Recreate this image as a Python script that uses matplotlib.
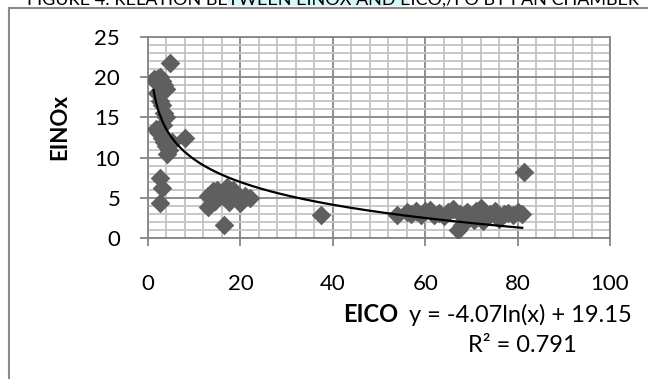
import numpy as np
import matplotlib.pyplot as plt
from matplotlib.lines import Line2D
from matplotlib.patches import Rectangle
from matplotlib.ticker import MultipleLocator

plt.rcParams['font.family'] = ['Lato', 'DejaVu Sans']

# EICO (x) vs EINOx (y)
eico = [4.8, 1.5, 2.0, 2.5, 3.0, 3.5, 4.0, 2.0, 2.5, 3.0, 3.5, 4.0, 1.8,
        2.3, 3.0, 3.5, 4.0, 4.5, 4.2, 5.2, 8.0, 2.5, 3.0, 2.5, 1.2, 3.2,
        13.0, 14.0, 15.0, 16.0, 17.0, 18.0, 19.0, 20.0, 21.0, 22.0, 17.5,
        14.5, 13.0, 16.5, 20.0, 18.5, 15.5,
        37.4,
        54.0, 56.0, 57.0, 58.0, 59.0, 60.0, 61.0, 62.0, 63.0, 64.0, 65.0,
        66.0, 67.0, 68.0, 67.5, 69.0, 70.0, 71.0, 72.0, 73.0, 74.0, 75.0,
        76.0, 77.0, 78.0, 79.0, 80.0, 81.0, 70.5, 72.5, 81.4]
einox = [21.8, 19.5, 19.8, 20.0, 19.5, 19.0, 18.5, 18.0, 17.0, 16.5, 15.5,
         15.0, 13.5, 13.0, 12.5, 12.0, 11.5, 11.0, 10.5, 12.0, 12.5, 7.5,
         6.2, 4.3, 19.8, 14.0,
         5.2, 5.8, 6.0, 5.5, 6.3, 5.8, 5.0, 4.8, 5.2, 5.0, 4.5, 4.6, 3.8,
         1.6, 4.3, 6.0, 5.4,
         2.9,
         2.9, 3.2, 3.0, 3.4, 2.8, 3.3, 3.5, 2.9, 3.1, 2.7, 3.2, 3.6, 1.0,
         1.6, 3.0, 3.2, 2.6, 3.4, 3.7, 2.8, 3.0, 3.3, 2.4, 3.0, 3.1, 2.8,
         3.2, 3.0, 2.2, 2.1, 8.2]

# logarithmic trendline shown on the chart
fit_a = -4.07
fit_b = 19.15
r_squared = 0.791

fig = plt.figure(figsize=(6.48, 3.79), dpi=100)
W, H = 648, 379
fs = 16

# outer chart border and the clipped caption above it
fig.add_artist(Line2D([9 / W, 9 / W], [0, 1 - 8 / H], color='#8a8a8a', lw=1.5))
fig.add_artist(Line2D([9 / W, 1], [1 - 8 / H, 1 - 8 / H], color='#8a8a8a', lw=1.5))
fig.add_artist(Rectangle((228 / W, 1 - 6 / H), 180 / W, 6 / H,
                         transform=fig.transFigure, color='#d6f7fb', lw=0))
fig.text(27 / W, 1 - 5 / H, 'FIGURE 4: RELATION BETWEEN EINOX AND EICO,/FO BY FAN CHAMBER',
         fontsize=13, va='baseline', ha='left', color='black')

ax = fig.add_axes([148 / W, 1 - 238 / H, 462 / W, 201 / H])

grey = '#868686'
ax.scatter(eico, einox, marker='D', s=100, color='#5f5f5f', lw=0, zorder=3)

xs = np.linspace(min(eico), max(eico) - 0.4, 300)
ax.plot(xs, fit_a * np.log(xs) + fit_b, color='black', lw=1.6, zorder=4)

ax.set_xlim(0, 100)
ax.set_ylim(0, 25)
ax.xaxis.set_major_locator(MultipleLocator(20))
ax.xaxis.set_minor_locator(MultipleLocator(4))
ax.yaxis.set_major_locator(MultipleLocator(5))
ax.yaxis.set_minor_locator(MultipleLocator(1))
ax.set_axisbelow(True)
ax.grid(which='minor', color='#c4c4c4', lw=1.3)
ax.grid(which='major', color=grey, lw=1.3)

for sp in ax.spines.values():
    sp.set_color(grey)
    sp.set_linewidth(1.3)

ax.tick_params(which='major', length=6, width=1.3, color=grey,
               labelsize=fs, direction='out')
ax.tick_params(axis='x', pad=20)
ax.tick_params(axis='y', pad=14)
ax.tick_params(which='minor', length=0)

fig.text(60 / W, 1 - 127 / H, 'EINOx', rotation=90, fontsize=fs,
         fontweight='bold', ha='center', va='center')
fig.text(398 / W, 1 - 315 / H, 'EICO', fontsize=17, fontweight='bold',
         ha='right', va='center')
fig.text(632 / W, 1 - 315 / H, f'y = {fit_a:.2f}ln(x) + {fit_b:.2f}',
         fontsize=17, ha='right', va='center')
fig.text(522 / W, 1 - 345 / H, f'R² = {r_squared}', fontsize=17,
         ha='center', va='center')

fig.savefig('out.png', dpi=100)
